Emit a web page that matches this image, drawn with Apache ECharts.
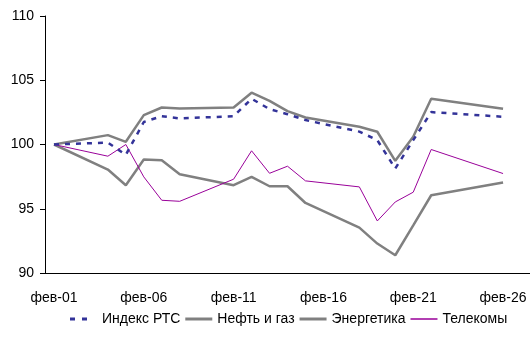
<!DOCTYPE html>
<html>
<head>
<meta charset="utf-8">
<script src="https://cdn.jsdelivr.net/npm/echarts@6/dist/echarts.min.js"></script>
<style>html,body{margin:0;padding:0;background:#fff}#c{width:530px;height:340px}</style>
</head>
<body>
<div id="c"></div>
<script>
// Categories: days of February
const days = ["01","02","03","04","05","06","07","08","09","10","11","12","13","14","15","16","17","18","19","20","21","22","23","24","25","26","27"];
const categories = days.map(d => "фев-" + d);
// Series values (null = no trading day)
const rts     = [100, null, null, 100.15, 99.2, 101.75, 102.2, 102.03, null, null, 102.2, 103.56, 102.75, 102.36, 101.9, null, null, 101.0, 100.34, 98.13, 100.34, 102.52, null, null, null, 102.16, null];
const oilGas  = [100, null, null, 100.73, 100.21, 102.29, 102.88, 102.8, null, null, 102.88, 104.03, 103.4, 102.6, 102.1, null, null, 101.38, 100.99, 98.73, 100.6, 103.56, null, null, null, 102.78, null];
const energy  = [100, null, null, 98.05, 96.83, 98.83, 98.78, 97.69, null, null, 96.83, 97.48, 96.75, 96.75, 95.45, null, null, 93.53, 92.29, 91.38, 93.7, 96.05, null, null, null, 97.04, null];
const telecom = [100, null, null, 99.09, 100.0, 97.48, 95.66, 95.58, null, null, 97.3, 99.51, 97.76, 98.31, 97.17, null, null, 96.7, 94.05, 95.53, 96.29, 99.61, null, null, null, 97.74, null];
const yTicks = [90, 95, 100, 105, 110];
const names = ["Индекс РТС", "Нефть и газ", "Энергетика", "Телекомы"];

const font = "'Liberation Sans', Arial, sans-serif";
const dashIcon = 'path://M0,0h5v3h-5zM12,0h5v3h-5zM27,0L27,3';
const lineIcon = 'path://M0,0h27v3h-27z';
const thinIcon = 'path://M0,0.8h27v1.4h-27zM0,0L0,3';
const chart = echarts.init(document.getElementById('c'));
chart.setOption({
  animation: false,
  textStyle: {fontFamily: font},
  grid: {left: 45, right: 0, top: 16, bottom: 67, containLabel: false},
  legend: {
    bottom: 9, left: 65,
    itemWidth: 27, itemHeight: 3, itemGap: 5,
    textStyle: {fontFamily: font, fontSize: 14, color: '#000'},
    data: [
      {name: names[0], icon: dashIcon},
      {name: names[1], icon: lineIcon},
      {name: names[2], icon: lineIcon},
      {name: names[3], icon: thinIcon}
    ]
  },
  xAxis: {
    type: 'category', data: categories, boundaryGap: true,
    axisLine: {lineStyle: {color: '#000', width: 1}},
    axisTick: {interval: 4, length: 5, inside: false, lineStyle: {color: '#000'}},
    axisLabel: {interval: 4, color: '#000', fontSize: 14, fontFamily: font, margin: 18},
    splitLine: {show: false}
  },
  yAxis: {
    type: 'value', min: yTicks[0], max: yTicks[yTicks.length-1], interval: 5,
    axisLine: {show: true, lineStyle: {color: '#000', width: 1}},
    axisTick: {show: true, length: 5, lineStyle: {color: '#000'}},
    axisLabel: {color: '#000', fontSize: 14, fontFamily: font, margin: 11},
    splitLine: {show: false}
  },
  series: [
    {name: names[0], type: 'line', data: rts, connectNulls: true, symbol: 'none', z: 5,
     lineStyle: {color: '#333399', width: 2.5, type: [5, 6]}, itemStyle: {color: '#333399'}},
    {name: names[1], type: 'line', data: oilGas, connectNulls: true, symbol: 'none',
     lineStyle: {color: '#808080', width: 2.5}, itemStyle: {color: '#808080'}},
    {name: names[2], type: 'line', data: energy, connectNulls: true, symbol: 'none',
     lineStyle: {color: '#808080', width: 2.5}, itemStyle: {color: '#808080'}},
    {name: names[3], type: 'line', data: telecom, connectNulls: true, symbol: 'none',
     lineStyle: {color: '#990099', width: 1}, itemStyle: {color: '#990099'}}
  ]
});
</script>
</body>
</html>
